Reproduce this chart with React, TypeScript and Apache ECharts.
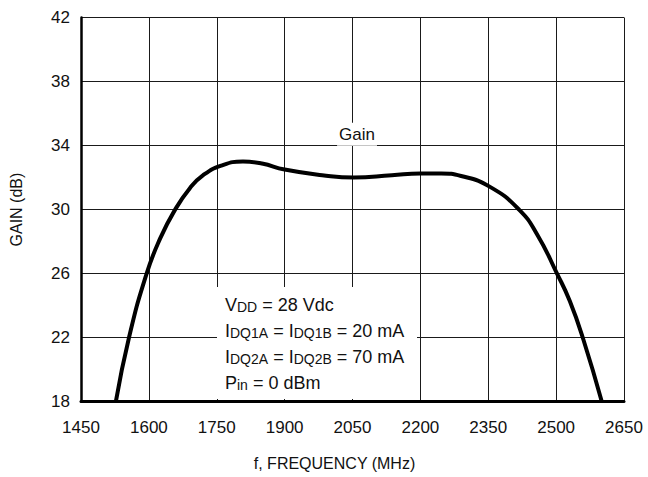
import React, { useEffect, useRef } from "react";
import * as echarts from "echarts";

const freqMHz = [1527, 1556, 1595, 1625, 1657, 1691, 1720, 1760, 1808, 1850, 1900, 1983, 2053, 2137, 2200, 2246, 2290, 2352, 2418, 2459, 2502, 2530, 2560, 2601];
const gainDb = [18.0, 22.0, 26.0, 28.2, 29.95, 31.35, 32.15, 32.75, 33.0, 32.88, 32.5, 32.15, 32.0, 32.15, 32.26, 32.26, 32.1, 31.45, 30.0, 28.4, 26.0, 24.3, 21.9, 18.0];

const xMin = 1450;
const xMax = 2650;
const xStep = 150;
const yMin = 18;
const yMax = 42;
const yStep = 4;

const seriesLabel = "Gain";
const seriesLabelAt = [2060, 34.7];
const xTitle = "f, FREQUENCY (MHz)";
const yTitle = "GAIN (dB)";

const FONT = "'Liberation Sans', Arial, Helvetica, sans-serif";

export default function App() {
  const ref = useRef<HTMLDivElement>(null);
  useEffect(() => {
    if (!ref.current) return;
    document.body.style.margin = "0";
    const chart = echarts.init(ref.current, undefined, { renderer: "svg" });
    const data = freqMHz.map((f, i) => [f, gainDb[i]]);
    chart.setOption({
      animation: false,
      backgroundColor: "#fff",
      textStyle: { fontFamily: FONT },
      grid: { left: 77, top: 17.5, right: 24, bottom: 75.3, containLabel: false },
      xAxis: {
        type: "value",
        min: xMin,
        max: xMax,
        interval: xStep,
        name: xTitle,
        nameLocation: "middle",
        nameGap: 54,
        nameTextStyle: { fontSize: 16, color: "#111", fontFamily: FONT, padding: [0, 36, 0, 0] },
        axisLine: { show: true, onZero: false, lineStyle: { color: "#000", width: 3 } },
        axisTick: { show: false },
        axisLabel: { fontSize: 17, color: "#111", margin: 17, fontFamily: FONT, formatter: (v: number) => String(v) },
        splitLine: { show: true, lineStyle: { color: "#1a1a1a", width: 1 } },
      },
      yAxis: {
        type: "value",
        min: yMin,
        max: yMax,
        interval: yStep,
        name: yTitle,
        nameLocation: "middle",
        nameGap: 57,
        nameTextStyle: { fontSize: 16, color: "#111", fontFamily: FONT },
        axisLine: { show: true, onZero: false, lineStyle: { color: "#000", width: 2.5 } },
        axisTick: { show: false },
        axisLabel: { fontSize: 17, color: "#111", margin: 11, fontFamily: FONT },
        splitLine: { show: true, lineStyle: { color: "#1a1a1a", width: 1 } },
      },
      graphic: [
        {
          type: "group",
          z: 100,
          children: [
            { type: "rect", shape: { x: 217, y: 287, width: 200, height: 112 }, style: { fill: "#fff" }, z: 100 },
            {
              type: "text",
              x: 225,
              y: 288,
              z: 101,
              style: {
                text:
                  "{n|V}{s|DD}{n| = 28 Vdc}\n" +
                  "{n|I}{s|DQ1A}{n| = I}{s|DQ1B}{n| = 20 mA}\n" +
                  "{n|I}{s|DQ2A}{n| = I}{s|DQ2B}{n| = 70 mA}\n" +
                  "{n|P}{s|in}{n| = 0 dBm}",
                fill: "#111",
                fontFamily: FONT,
                rich: {
                  n: { fontSize: 18, lineHeight: 26, verticalAlign: "bottom", fontFamily: FONT, fill: "#111" },
                  s: { fontSize: 14, lineHeight: 13, verticalAlign: "bottom", fontFamily: FONT, fill: "#111" },
                },
              },
            },
          ],
        },
      ],
      series: [
        {
          type: "line",
          data,
          smooth: 0.5,
          showSymbol: false,
          symbol: "none",
          lineStyle: { color: "#000", width: 4 },
          z: 10,
          markPoint: {
            symbol: "rect",
            symbolSize: 0,
            data: [
              {
                coord: seriesLabelAt,
                label: {
                  show: true,
                  formatter: seriesLabel,
                  position: "inside",
                  fontSize: 17,
                  color: "#111",
                  fontFamily: FONT,
                  backgroundColor: "#fff",
                  padding: [3, 2],
                },
              },
            ],
          },
        },
      ],
    });
    return () => chart.dispose();
  }, []);
  return <div ref={ref} style={{ width: 648, height: 477 }} />;
}
